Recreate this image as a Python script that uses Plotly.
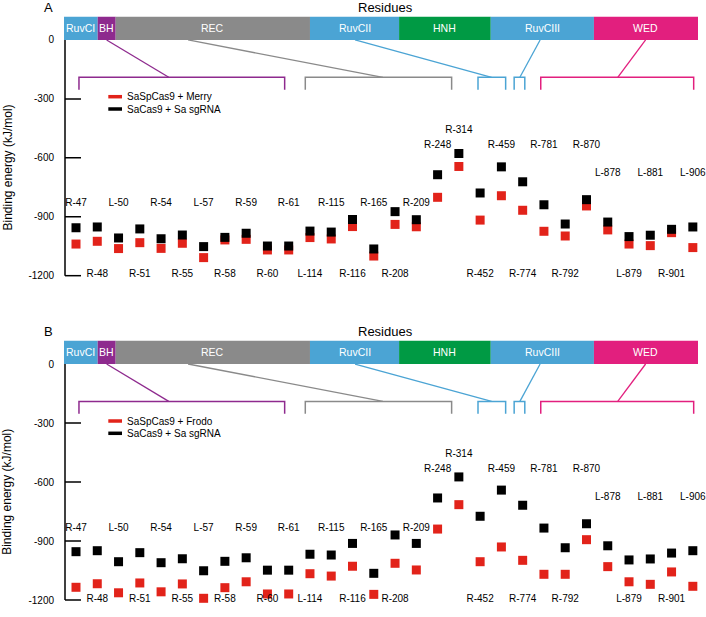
import plotly.graph_objects as go

# ---------------- data ----------------
residues = ["R-47", "R-48", "L-50", "R-51", "R-54", "R-55", "L-57", "R-58", "R-59", "R-60",
            "R-61", "L-114", "R-115", "R-116", "R-165", "R-208", "R-209", "R-248", "R-314", "R-452",
            "R-459", "R-774", "R-781", "R-792", "R-870", "L-878", "L-879", "L-881", "R-901", "L-906"]

merry_A = [-1039, -1025, -1062, -1032, -1061, -1035, -1108, -1018, -1015, -1069,
           -1069, -1006, -1013, -950, -1100, -939, -951, -801, -644, -917,
           -793, -867, -974, -998, -845, -967, -1039, -1047, -981, -1057]
sa_A = [-956, -952, -1008, -962, -1012, -993, -1052, -1005, -984, -1049,
        -1049, -973, -978, -914, -1064, -874, -915, -686, -578, -779,
        -646, -722, -839, -937, -813, -927, -1001, -994, -964, -952]

frodo_B = [-1135, -1117, -1163, -1113, -1158, -1118, -1191, -1137, -1107, -1169,
           -1169, -1066, -1078, -1028, -1171, -1013, -1047, -839, -715, -1005,
           -930, -998, -1069, -1069, -893, -1030, -1107, -1120, -1057, -1130]
sa_B = [-954, -949, -1005, -959, -1010, -990, -1051, -1003, -985, -1048,
        -1048, -967, -971, -912, -1064, -869, -912, -681, -574, -774,
        -641, -718, -834, -934, -812, -924, -996, -991, -961, -949]

tick_vals = [0, -300, -600, -900, -1200]
tick_text = ["0", "-300", "-600", "-900", "-1200"]
domains = ["RuvCI", "BH", "REC", "RuvCII", "HNH", "RuvCIII", "WED"]

# ---------------- layout constants ----------------
W, H = 706, 617
FONT = "Liberation Sans, Arial, sans-serif"
RED = "#E2231A"
C_BLUE = "#4BA4D4"
C_BH = "#8E2A8E"
C_GRAY = "#8A8A8A"
C_GREEN = "#009A44"
C_PINK = "#E21F7E"
dom_colors = [C_BLUE, C_BH, C_GRAY, C_BLUE, C_GREEN, C_BLUE, C_PINK]
dom_edges = [-0.564, 1.02, 1.866, 11.0, 15.19, 19.5, 24.35, 29.243]
BAR_TOP = 120
YMIN = -1222

# label tiers (y position of residue labels)
tier_y = {"u": -835, "h": -536, "t": -460, "m": -680, "d": -1196}
label_tier = ["u", "d", "u", "d", "u", "d", "u", "d", "u", "d",
              "u", "d", "u", "d", "u", "d", "u", "h", "t", "d",
              "h", "d", "h", "d", "h", "m", "d", "m", "d", "m"]

# brackets: (color, x0, x1, connector start at bar, connector end at bracket)
brackets = [
    (C_BH, 0.14, 9.81, 1.44, 4.36),
    (C_GRAY, 10.78, 17.66, 5.27, 14.43),
    (C_BLUE, 18.9, 20.2, 13.12, 19.54),
    (C_BLUE, 20.6, 21.1, 21.82, 20.87),
    (C_PINK, 21.85, 29.04, 26.78, 25.47),
]
BR_Y, BR_LEG = -190, -253
AXIS_X, TICK_X = -0.517, 0.235


def px(x):
    return x / W


def py(y):
    return 1 - y / H


fig = go.Figure()
xs = list(range(len(residues)))

panels = [
    ("x", "y", merry_A, sa_A, "SaSpCas9 + Merry", "A", 0.0),
    ("x2", "y2", frodo_B, sa_B, "SaSpCas9 + Frodo", "B", 324.3),
]

shapes = []
annotations = []

for xa, ya, red_vals, blk_vals, red_name, letter, off in panels:
    fig.add_trace(go.Scatter(x=xs, y=red_vals, mode="markers", xaxis=xa, yaxis=ya,
                             marker=dict(symbol="square", size=9, color=RED),
                             name=red_name, showlegend=False, cliponaxis=False))
    fig.add_trace(go.Scatter(x=xs, y=blk_vals, mode="markers", xaxis=xa, yaxis=ya,
                             marker=dict(symbol="square", size=9, color="black"),
                             name="SaCas9 + Sa sgRNA", showlegend=False, cliponaxis=False))
    fig.add_trace(go.Scatter(x=xs, y=[tier_y[t] for t in label_tier], mode="text",
                             text=residues, textposition="middle center",
                             textfont=dict(family=FONT, size=10, color="black"),
                             xaxis=xa, yaxis=ya, showlegend=False, hoverinfo="skip",
                             cliponaxis=False))

    # domain bar
    for i, name in enumerate(domains):
        shapes.append(dict(type="rect", xref=xa, yref=ya, x0=dom_edges[i], x1=dom_edges[i + 1],
                           y0=0, y1=BAR_TOP, fillcolor=dom_colors[i], line=dict(width=0), layer="below"))
        annotations.append(dict(xref=xa, yref=ya, x=(dom_edges[i] + dom_edges[i + 1]) / 2,
                                y=BAR_TOP / 2, text=name, showarrow=False,
                                font=dict(family=FONT, size=10.5, color="white")))
    # brackets and connectors
    for col, x0, x1, c0, c1 in brackets:
        shapes.append(dict(type="path", xref=xa, yref=ya,
                           path=f"M {x0},{BR_LEG} L {x0},{BR_Y} L {x1},{BR_Y} L {x1},{BR_LEG}",
                           line=dict(color=col, width=1.5)))
        shapes.append(dict(type="line", xref=xa, yref=ya, x0=c0, y0=0, x1=c1, y1=BR_Y,
                           line=dict(color=col, width=1.3)))
    # axis line and ticks
    shapes.append(dict(type="line", xref=xa, yref=ya, x0=AXIS_X, x1=AXIS_X, y0=0, y1=-1200,
                       line=dict(color="black", width=1.5)))
    for tv in tick_vals[1:]:
        shapes.append(dict(type="line", xref=xa, yref=ya, x0=AXIS_X, x1=TICK_X, y0=tv, y1=tv,
                           line=dict(color="black", width=1.5)))

    # legend
    for k, (col, txt) in enumerate([(RED, red_name), ("black", "SaCas9 + Sa sgRNA")]):
        yy = 96.7 + off + k * 12.3
        shapes.append(dict(type="line", xref="paper", yref="paper", x0=px(108.3), x1=px(122),
                           y0=py(yy), y1=py(yy), line=dict(color=col, width=3.5)))
        annotations.append(dict(xref="paper", yref="paper", x=px(124.5), y=py(yy), text=txt,
                                xanchor="left", yanchor="middle", showarrow=False,
                                font=dict(family=FONT, size=10, color="black")))

    # titles
    annotations.append(dict(xref="paper", yref="paper", x=px(48.5), y=py(7 + off), text=letter,
                            showarrow=False, xanchor="center", yanchor="middle",
                            font=dict(family=FONT, size=13, color="black")))
    annotations.append(dict(xref="paper", yref="paper", x=px(385.6), y=py(7 + off), text="Residues",
                            showarrow=False, xanchor="center", yanchor="middle",
                            font=dict(family=FONT, size=13, color="black")))
    annotations.append(dict(xref="paper", yref="paper", x=px(7), y=py(167.5 + off),
                            text="Binding energy (kJ/mol)", textangle=-90,
                            showarrow=False, xanchor="center", yanchor="middle",
                            font=dict(family=FONT, size=12, color="black")))

xdom = [px(64), px(698)]
xrange_ = [-0.564, 29.243]
yaxis_common = dict(range=[YMIN, BAR_TOP], tickvals=tick_vals, ticktext=tick_text,
                    showgrid=False, zeroline=False, showline=False, ticks="",
                    ticklabelstandoff=9, tickfont=dict(family=FONT, size=10, color="black"),
                    fixedrange=True, automargin=False)

fig.update_layout(
    width=W, height=H,
    margin=dict(l=0, r=0, t=0, b=0, autoexpand=False),
    paper_bgcolor="white", plot_bgcolor="white",
    showlegend=False,
    xaxis=dict(domain=xdom, range=xrange_, visible=False, anchor="y", automargin=False),
    xaxis2=dict(domain=xdom, range=xrange_, visible=False, anchor="y2", automargin=False),
    yaxis=dict(domain=[py(280), py(16.4)], anchor="x", **yaxis_common),
    yaxis2=dict(domain=[py(604.4), py(340.4)], anchor="x2", **yaxis_common),
    shapes=shapes,
    annotations=annotations,
)

fig.write_html("out.html", config={"displayModeBar": False},
               post_script="document.body.style.margin='0';document.body.style.overflow='hidden';")
